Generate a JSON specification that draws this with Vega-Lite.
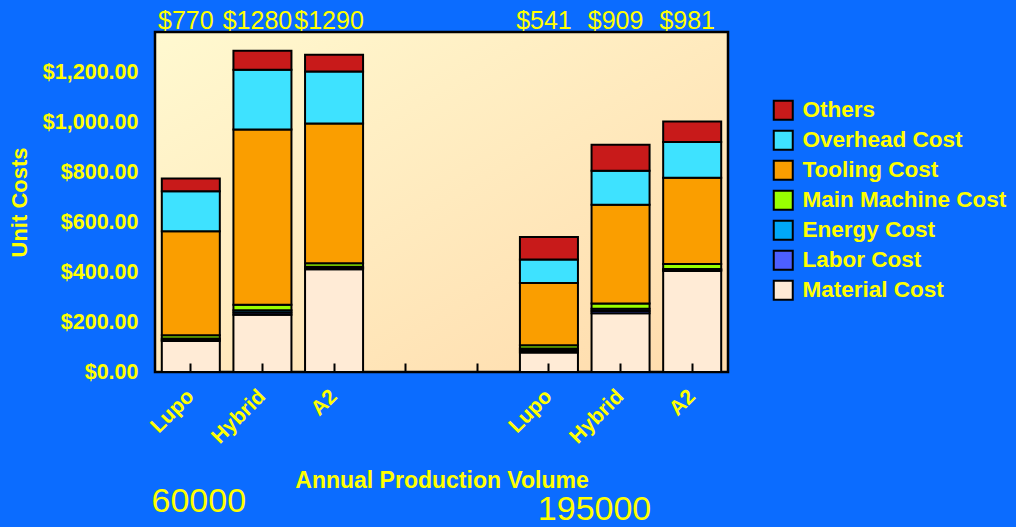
{
  "$schema": "https://vega.github.io/schema/vega-lite/v6.json",
  "width": 573,
  "height": 340,
  "autosize": "none",
  "padding": {"left": 155, "top": 32, "right": 288, "bottom": 155},
  "background": "#0B6CFF",
  "view": {
    "fill": {"gradient": "linear", "x1": 0, "y1": 0, "x2": 1, "y2": 1, "stops": [{"offset": 0, "color": "#FFF9D0"}, {"offset": 1, "color": "#FFDBAC"}]},
    "stroke": "black",
    "strokeWidth": 2.5
  },
  "config": {"font": "Liberation Sans"},
  "datasets": {
    "costs": [
      {"slot": "60000|Lupo", "component": "Material Cost", "cost": 124},
      {"slot": "60000|Lupo", "component": "Labor Cost", "cost": 5},
      {"slot": "60000|Lupo", "component": "Energy Cost", "cost": 5},
      {"slot": "60000|Lupo", "component": "Main Machine Cost", "cost": 13},
      {"slot": "60000|Lupo", "component": "Tooling Cost", "cost": 416},
      {"slot": "60000|Lupo", "component": "Overhead Cost", "cost": 160},
      {"slot": "60000|Lupo", "component": "Others", "cost": 51},
      {"slot": "60000|Hybrid", "component": "Material Cost", "cost": 229},
      {"slot": "60000|Hybrid", "component": "Labor Cost", "cost": 9},
      {"slot": "60000|Hybrid", "component": "Energy Cost", "cost": 9},
      {"slot": "60000|Hybrid", "component": "Main Machine Cost", "cost": 22},
      {"slot": "60000|Hybrid", "component": "Tooling Cost", "cost": 701},
      {"slot": "60000|Hybrid", "component": "Overhead Cost", "cost": 239},
      {"slot": "60000|Hybrid", "component": "Others", "cost": 76},
      {"slot": "60000|A2", "component": "Material Cost", "cost": 411},
      {"slot": "60000|A2", "component": "Labor Cost", "cost": 5},
      {"slot": "60000|A2", "component": "Energy Cost", "cost": 5},
      {"slot": "60000|A2", "component": "Main Machine Cost", "cost": 14},
      {"slot": "60000|A2", "component": "Tooling Cost", "cost": 559},
      {"slot": "60000|A2", "component": "Overhead Cost", "cost": 208},
      {"slot": "60000|A2", "component": "Others", "cost": 67},
      {"slot": "195000|Lupo", "component": "Material Cost", "cost": 78},
      {"slot": "195000|Lupo", "component": "Labor Cost", "cost": 8},
      {"slot": "195000|Lupo", "component": "Energy Cost", "cost": 8},
      {"slot": "195000|Lupo", "component": "Main Machine Cost", "cost": 13},
      {"slot": "195000|Lupo", "component": "Tooling Cost", "cost": 249},
      {"slot": "195000|Lupo", "component": "Overhead Cost", "cost": 94},
      {"slot": "195000|Lupo", "component": "Others", "cost": 90},
      {"slot": "195000|Hybrid", "component": "Material Cost", "cost": 235},
      {"slot": "195000|Hybrid", "component": "Labor Cost", "cost": 9},
      {"slot": "195000|Hybrid", "component": "Energy Cost", "cost": 9},
      {"slot": "195000|Hybrid", "component": "Main Machine Cost", "cost": 21},
      {"slot": "195000|Hybrid", "component": "Tooling Cost", "cost": 395},
      {"slot": "195000|Hybrid", "component": "Overhead Cost", "cost": 136},
      {"slot": "195000|Hybrid", "component": "Others", "cost": 104},
      {"slot": "195000|A2", "component": "Material Cost", "cost": 404},
      {"slot": "195000|A2", "component": "Labor Cost", "cost": 4},
      {"slot": "195000|A2", "component": "Energy Cost", "cost": 4},
      {"slot": "195000|A2", "component": "Main Machine Cost", "cost": 20},
      {"slot": "195000|A2", "component": "Tooling Cost", "cost": 345},
      {"slot": "195000|A2", "component": "Overhead Cost", "cost": 143},
      {"slot": "195000|A2", "component": "Others", "cost": 82}
    ],
    "totals": [
      {"slot": "60000|Lupo", "label": "$770"},
      {"slot": "60000|Hybrid", "label": "$1280"},
      {"slot": "60000|A2", "label": "$1290"},
      {"slot": "195000|Lupo", "label": "$541"},
      {"slot": "195000|Hybrid", "label": "$909"},
      {"slot": "195000|A2", "label": "$981"}
    ]
  },
  "layer": [
    {
      "data": {"name": "costs"},
      "transform": [
        {"calculate": "indexof(['Material Cost','Labor Cost','Energy Cost','Main Machine Cost','Tooling Cost','Overhead Cost','Others'], datum.component)", "as": "stackOrder"}
      ],
      "mark": {"type": "bar", "stroke": "black", "strokeWidth": 2, "opacity": 1},
      "encoding": {
        "x": {
          "field": "slot",
          "type": "nominal",
          "scale": {
            "domain": ["60000|Lupo", "60000|Hybrid", "60000|A2", "gap1|", "gap2|", "195000|Lupo", "195000|Hybrid", "195000|A2"],
            "paddingInner": 0.19,
            "paddingOuter": 0.095
          },
          "axis": {
            "title": "Annual Production Volume",
            "titleColor": "#FFFF00",
            "titleFont": "Liberation Sans",
            "titleFontSize": 23,
            "titleFontWeight": "bold",
            "titleY": 115,
            "titleBaseline": "alphabetic",
            "labelExpr": "split(datum.value, '|')[1]",
            "labelAngle": -45,
            "labelAlign": "right",
            "labelBaseline": "middle",
            "labelColor": "#FFFF00",
            "labelFont": "Liberation Sans",
            "labelFontSize": 21,
            "labelFontWeight": "bold",
            "labelPadding": 30,
            "domain": false,
            "ticks": true,
            "tickColor": "black",
            "tickWidth": 2,
            "tickSize": -9,
            "grid": false,
            "zindex": 1
          }
        },
        "y": {
          "field": "cost",
          "type": "quantitative",
          "stack": "zero",
          "scale": {"domain": [0, 1360], "nice": false},
          "axis": {
            "title": "Unit Costs",
            "titleColor": "#FFFF00",
            "titleFont": "Liberation Sans",
            "titleFontSize": 22,
            "titleFontWeight": "bold",
            "titlePadding": 11,
            "values": [0, 200, 400, 600, 800, 1000, 1200],
            "format": "$,.2f",
            "labelColor": "#FFFF00",
            "labelFont": "Liberation Sans",
            "labelFontSize": 21.5,
            "labelFontWeight": "bold",
            "labelPadding": 17,
            "ticks": false,
            "domain": false,
            "grid": false
          }
        },
        "color": {
          "field": "component",
          "type": "nominal",
          "scale": {
            "domain": ["Others", "Overhead Cost", "Tooling Cost", "Main Machine Cost", "Energy Cost", "Labor Cost", "Material Cost"],
            "range": ["#C81A1A", "#3EE2FF", "#FA9E00", "#99FF00", "#00A8F8", "#4D5FFF", "#FFEBD6"]
          },
          "legend": {
            "title": null,
            "orient": "none",
            "legendX": 617,
            "legendY": 67,
            "padding": 0,
            "symbolType": "square",
            "symbolSize": 361,
            "symbolStrokeColor": "black",
            "symbolStrokeWidth": 2,
            "symbolOpacity": 1,
            "labelColor": "#FFFF00",
            "labelFont": "Liberation Sans",
            "labelFontSize": 22.5,
            "labelFontWeight": "bold",
            "labelOffset": 8,
            "labelLimit": 400,
            "rowPadding": 2
          }
        },
        "order": {"field": "stackOrder", "type": "quantitative"}
      }
    },
    {
      "data": {"name": "totals"},
      "mark": {"type": "text", "font": "Liberation Sans", "fontSize": 25, "color": "#FFFF00", "baseline": "alphabetic", "align": "center", "dx": -5},
      "encoding": {
        "x": {"field": "slot", "type": "nominal"},
        "y": {"value": -3},
        "text": {"field": "label", "type": "nominal"}
      }
    },
    {
      "data": {"values": [{"slot": "60000|Lupo", "label": "60000"}]},
      "mark": {"type": "text", "font": "Liberation Sans", "fontSize": 34, "color": "#FFFF00", "baseline": "alphabetic", "align": "center", "dx": 8},
      "encoding": {
        "x": {"field": "slot", "type": "nominal"},
        "y": {"value": 480},
        "text": {"field": "label", "type": "nominal"}
      }
    },
    {
      "data": {"values": [{"slot": "195000|Hybrid", "label": "195000"}]},
      "mark": {"type": "text", "font": "Liberation Sans", "fontSize": 34, "color": "#FFFF00", "baseline": "alphabetic", "align": "center", "dx": -26},
      "encoding": {
        "x": {"field": "slot", "type": "nominal"},
        "y": {"value": 488},
        "text": {"field": "label", "type": "nominal"}
      }
    }
  ]
}
